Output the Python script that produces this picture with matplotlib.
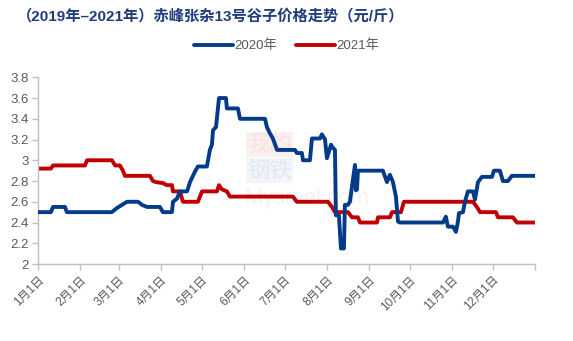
import matplotlib
matplotlib.use("Agg")
import matplotlib.pyplot as plt

plt.rcParams['font.family'] = ['Liberation Sans', 'Noto Sans CJK SC', 'DejaVu Sans']

title = "（2019年–2021年）赤峰张杂13号谷子价格走势（元/斤）"
series_names = ["2020年", "2021年"]
month_labels = ["1月1日", "2月1日", "3月1日", "4月1日", "5月1日", "6月1日",
                "7月1日", "8月1日", "9月1日", "10月1日", "11月1日", "12月1日"]
month_starts = [0, 31, 59, 90, 120, 151, 181, 212, 243, 273, 304, 334, 365]
y_ticks = [2, 2.2, 2.4, 2.6, 2.8, 3, 3.2, 3.4, 3.6, 3.8]

# 2020 price (day of year, yuan/jin)
days_2020 = [0, 9.3, 10.8, 19.6, 21, 54, 57.8, 61.5, 65.2, 73.3, 76.2, 79.9, 89.4, 91.6,
             98.2, 99, 101.9, 104.1, 109.3, 111.5, 115.1, 117.3, 123.9, 126.1, 127.6,
             128.4, 130.6, 132.8, 137.9, 138.6, 146.7, 148.2, 166.6, 168, 170.2, 172.4,
             175.4, 188.6, 190, 193.7, 194.5, 199.6, 201.1, 207, 208.4, 210.7, 212.1,
             215.1, 216.5, 218, 218.7, 220.9, 222.4, 224.6, 225.3, 227.5, 229, 230.5,
             232.7, 233.4, 234.2, 234.9, 253.2, 256.2, 258.4, 260.6, 262.8, 264.3,
             265.7, 297.4, 299.5, 301, 304.7, 306.9, 308.4, 309.1, 312.1, 313.5, 315.7,
             319.4, 320.9, 323.1, 326, 333.4, 334.8, 339.2, 341.4, 345.1, 348, 365]
price_2020 = [2.5, 2.5, 2.55, 2.55, 2.5, 2.5, 2.54, 2.57, 2.6, 2.6, 2.57, 2.55, 2.55, 2.5,
              2.5, 2.6, 2.63, 2.7, 2.7, 2.79, 2.89, 2.94, 2.94, 3.1, 3.15,
              3.29, 3.32, 3.6, 3.6, 3.5, 3.5, 3.4, 3.4, 3.32, 3.26, 3.21,
              3.1, 3.1, 3.07, 3.07, 3.0, 3.0, 3.21, 3.21, 3.25, 3.2, 3.02,
              3.15, 3.12, 3.1, 2.47, 2.47, 2.15, 2.15, 2.57, 2.57, 2.6, 2.745,
              2.955, 2.71, 2.72, 2.9, 2.9, 2.79, 2.86, 2.79, 2.65, 2.41,
              2.4, 2.4, 2.456, 2.36, 2.36, 2.31, 2.41, 2.49, 2.5, 2.6, 2.7,
              2.7, 2.62, 2.79, 2.84, 2.84, 2.9, 2.9, 2.8, 2.8, 2.85, 2.85]

# 2021 price (day of year, yuan/jin)
days_2021 = [0, 9.3, 10.8, 34.3, 35.8, 54.2, 56.4, 60, 62.2, 63.7, 82, 84.3, 86.4, 91.6,
             94.5, 98.2, 99, 104.1, 106.3, 117.3, 120.3, 131.3, 132.8, 134.9, 138.6,
             140.8, 187.1, 190, 212.8, 215.8, 218, 227.6, 230.5, 234.9, 236.4, 248.9,
             249.6, 258.4, 259.9, 266.5, 268.7, 319.4, 322.3, 324.6, 336.3, 337.8,
             348.8, 351.7, 365]
price_2021 = [2.92, 2.92, 2.95, 2.95, 3.0, 3.0, 2.95, 2.95, 2.9, 2.85, 2.85, 2.8, 2.79, 2.78,
              2.76, 2.76, 2.7, 2.7, 2.6, 2.6, 2.7, 2.7, 2.76, 2.72, 2.7,
              2.65, 2.65, 2.6, 2.6, 2.55, 2.5, 2.5, 2.45, 2.45, 2.4, 2.4,
              2.45, 2.45, 2.5, 2.5, 2.6, 2.6, 2.55, 2.5, 2.5, 2.45,
              2.45, 2.4, 2.4]

blue = "#033B8A"
red = "#C00000"
axis_grey = "#BFBFBF"
text_grey = "#595959"

fig = plt.figure(figsize=(5.73, 3.41), dpi=100)
ax = fig.add_axes([0.0668, 0.2258, 0.8669, 0.5475])

# faint site mark behind the lines
ax.text(0.465, 0.64, "我的", transform=ax.transAxes, fontsize=16, color="#F7E3E3",
        ha="center", va="center", family=["Noto Sans CJK SC"], zorder=0,
        bbox=dict(boxstyle="square,pad=0.05", fc="#FBF0F0", ec="none"))
ax.text(0.465, 0.50, "钢铁", transform=ax.transAxes, fontsize=16, color="#E2E7F1",
        ha="center", va="center", family=["Noto Sans CJK SC"], zorder=0,
        bbox=dict(boxstyle="square,pad=0.05", fc="#F2F5FA", ec="none"))
ax.text(0.54, 0.35, "Mysteel.com", transform=ax.transAxes, fontsize=16, color="#F3F3F3",
        ha="center", va="center", zorder=0)

ax.plot(days_2020, price_2020, color=blue, lw=2.8, solid_joinstyle="round",
        solid_capstyle="round", label=series_names[0], zorder=3)
ax.plot(days_2021, price_2021, color=red, lw=2.8, solid_joinstyle="round",
        solid_capstyle="round", label=series_names[1], zorder=2)

ax.set_xlim(0, 365)
ax.set_ylim(2, 3.8)
ax.set_yticks(y_ticks)
ax.set_yticklabels([f"{v:g}" for v in y_ticks])
ax.set_xticks(month_starts)
ax.set_xticklabels(month_labels + [""], rotation=45, ha="right", rotation_mode="anchor")

for side in ("top", "right"):
    ax.spines[side].set_visible(False)
for side in ("left", "bottom"):
    ax.spines[side].set_color(axis_grey)
    ax.spines[side].set_linewidth(1.0)
ax.tick_params(axis="y", colors=axis_grey, labelcolor=text_grey, labelsize=9.5,
               length=4, width=1.0, direction="out", pad=3)
ax.tick_params(axis="x", colors=axis_grey, labelcolor=text_grey, labelsize=8.5,
               length=4, width=1.0, direction="out", pad=3)

fig.text(0.03, 0.952, title, fontsize=11, fontweight="bold", color="#1F3C7C",
         ha="left", va="center", family=["Liberation Sans", "Noto Sans CJK SC"])

fig.legend(loc="center", bbox_to_anchor=(0.5, 0.865), ncol=2, frameon=False,
           fontsize=9.5, labelcolor=text_grey, handlelength=3.0, handletextpad=0.1,
           columnspacing=1.4)

fig.savefig("out.png", dpi=100, facecolor="white")
